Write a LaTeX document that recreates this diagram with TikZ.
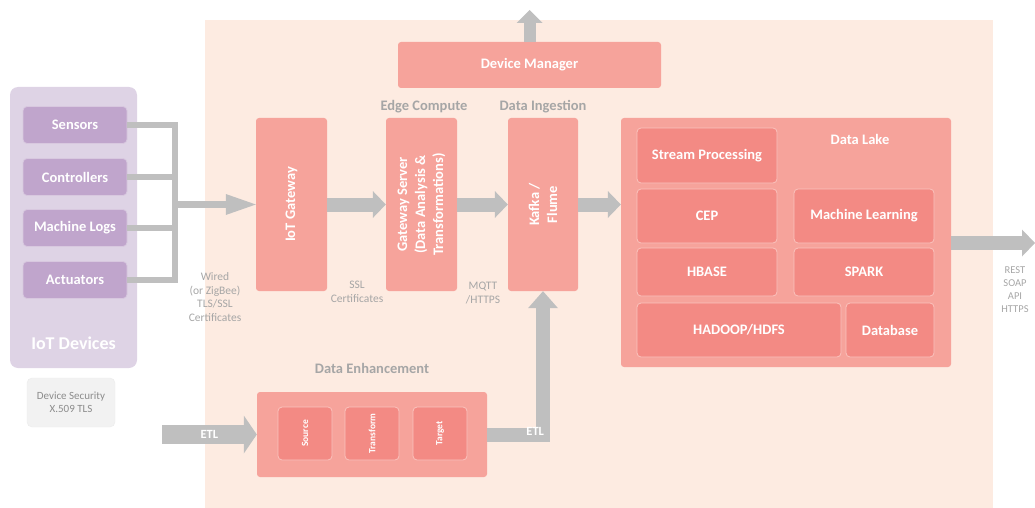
\documentclass[tikz,border=0pt]{standalone}
\usepackage{fontspec}
\setmainfont{Carlito}
\usetikzlibrary{arrows.meta}

\definecolor{peach}{HTML}{FDEBE1}
\definecolor{salmon}{HTML}{F6A39B}
\definecolor{salmondark}{HTML}{F38A84}
\definecolor{salmonline}{HTML}{FAC3BD}
\definecolor{lilac}{HTML}{DED3E5}
\definecolor{lilacdark}{HTML}{C0A5CC}
\definecolor{lilacline}{HTML}{D8C8DF}
\definecolor{arrowgrey}{HTML}{BFBFBF}
\definecolor{textgrey}{HTML}{A6A6A6}

\tikzset{
  block/.style={fill=salmon, rounded corners=3pt, inner sep=0pt},
  subblock/.style={fill=salmondark, draw=salmonline, line width=0.8pt, rounded corners=4pt,
    text=white, font=\bfseries\fontsize{14.5}{17}\selectfont, inner sep=0pt},
  devbox/.style={fill=lilacdark, draw=lilacline, line width=0.8pt, rounded corners=4pt,
    text=white, font=\bfseries\fontsize{14.5}{17}\selectfont,
    minimum width=104pt, minimum height=37pt, inner sep=0pt},
  vtext/.style={rotate=90, text=white, align=center, font=\bfseries\fontsize{14.5}{18}\selectfont},
  caption/.style={text=textgrey, font=\bfseries\fontsize{14.5}{17}\selectfont},
  note/.style={text=textgrey, align=center, font=\fontsize{11.5}{13.5}\selectfont},
  etl/.style={text=white, font=\bfseries\fontsize{12.5}{14}\selectfont},
  flow/.style={draw=arrowgrey, line width=14pt,
    -{Triangle[width=27pt, length=13pt, line width=0pt]}},
  bus/.style={draw=arrowgrey, line width=6pt},
}

\begin{document}
\begin{tikzpicture}[x=1pt,y=-1pt]
\useasboundingbox (0,0) rectangle (1035,508);
\fill[peach] (205,20) rectangle (993,508);% backdrop

% IoT devices
\node[fill=lilac, rounded corners=8pt, minimum width=127pt, minimum height=281pt] (devices) at (73.5,227.5) {};
\node[text=white, font=\bfseries\fontsize{18}{20}\selectfont] (devtitle) at (73.5,343) {IoT Devices};
\node[devbox] (sensors) at (75,125) {Sensors};
\node[devbox] (controllers) at (75,177) {Controllers};
\node[devbox] (logs) at (75,228) {Machine Logs};
\node[devbox] (actuators) at (75,280) {Actuators};
\node[fill=black!5, draw=black!8, rounded corners=5pt, minimum width=88pt, minimum height=49pt,
  text=black!45, align=center, font=\fontsize{11}{13.5}\selectfont] (security) at (71,402.5) {Device Security\\X.509 TLS};

% edge and ingestion
\node[block, minimum width=71pt, minimum height=173pt] (gateway) at (291.5,204.5) {};
\node[block, minimum width=71pt, minimum height=173pt] (server) at (421.5,204.5) {};
\node[block, minimum width=70pt, minimum height=173pt] (kafka) at (543,204.5) {};
\node[vtext] at (gateway) {IoT Gateway};
\node[vtext] at (server) {Gateway Server\\(Data Analysis \&\\Transformations)};
\node[vtext] at (kafka) {Kafka /\\Flume};
\node[block, minimum width=263pt, minimum height=46pt, text=white,
  font=\bfseries\fontsize{14.5}{17}\selectfont] (devmgr) at (529.5,65) {Device Manager};
\node[caption] (edgecap) at (424,107) {Edge Compute};
\node[caption] (ingestcap) at (543,107) {Data Ingestion};

% data lake
\node[block, minimum width=330pt, minimum height=249pt] (lake) at (786,242.5) {};
\node[text=white, font=\bfseries\fontsize{14.5}{17}\selectfont] (lakecap) at (860,139) {Data Lake};
\node[subblock, minimum width=140pt, minimum height=55pt] (stream) at (707,155.5) {Stream Processing};
\node[subblock, minimum width=140pt, minimum height=54pt] (cep) at (707,216) {CEP};
\node[subblock, minimum width=140pt, minimum height=54pt] (ml) at (864,216) {Machine Learning};
\node[subblock, minimum width=140pt, minimum height=48pt] (hbase) at (707,272) {HBASE};
\node[subblock, minimum width=140pt, minimum height=48pt] (spark) at (864,272) {SPARK};
\node[subblock, minimum width=204pt, minimum height=54pt] (hadoop) at (739,330) {HADOOP/HDFS};
\node[subblock, minimum width=88pt, minimum height=54pt] (database) at (890,330) {Database};

% data enhancement
\node[block, minimum width=230pt, minimum height=85pt] (enh) at (372,434.5) {};
\node[caption] (enhcap) at (372,368) {Data Enhancement};
\node[subblock, minimum width=54pt, minimum height=53pt] (source) at (305,433.5) {};
\node[subblock, minimum width=54pt, minimum height=53pt] (transform) at (372,433.5) {};
\node[subblock, minimum width=54pt, minimum height=53pt] (target) at (440,433.5) {};
\foreach \n/\t in {source/Source, transform/Transform, target/Target}
  \node[vtext, font=\bfseries\fontsize{9.5}{11}\selectfont] at (\n) {\t};

% notes
\node[note] (wired) at (215,297) {Wired\\(or ZigBee)\\TLS/SSL\\Certificates};
\node[note] (ssl) at (357,292) {SSL\\Certificates};
\node[note] (mqtt) at (483,293) {MQTT\\/HTTPS};
\node[note, font=\fontsize{10.5}{13}\selectfont] (rest) at (1015,290) {REST\\SOAP\\API\\HTTPS};

% connectors
\coordinate (jtop) at (175,125);
\coordinate (out) at (1035,243);
\coordinate (up) at (529.5,10);
\coordinate (etlin) at (162,434.5);
\draw[bus] (sensors.east) -| (actuators.east -| jtop) -- (actuators.east);
\draw[bus] (controllers.east) -- (controllers.east -| jtop);
\draw[bus] (logs.east) -- (logs.east -| jtop);
\draw[draw=arrowgrey, line width=7pt, -{Triangle[width=21pt, length=30pt, line width=0pt]}]
  (gateway.west -| jtop) -- (gateway.west);
\draw[flow] (gateway.east) -- (server.west);
\draw[flow] (server.east) -- (kafka.west);
\draw[flow] (kafka.east) -- (kafka.east -| lake.west);
\draw[flow] (lake.east |- out) -- (out);
\draw[flow, line width=12pt, -{Triangle[width=26pt, length=13pt, line width=0pt]}] (devmgr.north) -- (up);
\draw[flow, line width=19pt, -{Triangle[width=38pt, length=13pt, line width=0pt]}]
  (etlin) -- node[etl] {ETL} (enh.west);
\draw[flow, line width=14pt, -{Triangle[width=30pt, length=17pt, line width=0pt]}]
  (enh.east) -| node[etl, pos=0.43, yshift=3pt] {ETL} (kafka.south);
\end{tikzpicture}
\end{document}
